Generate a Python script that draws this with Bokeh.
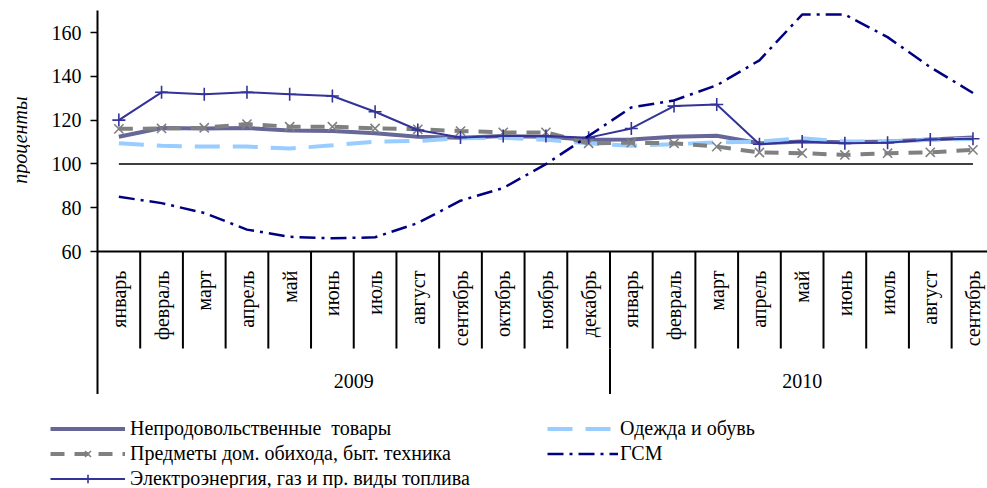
import math
from bokeh.plotting import figure
from bokeh.layouts import column, row
from bokeh.models import (Range1d, FixedTicker, Span, Legend, LegendItem,
                          ColumnDataSource)
from bokeh.core.properties import value
from bokeh.embed import file_html
from bokeh.resources import INLINE

# ---------------- data ----------------
YEARS = ["2009", "2010"]
MONTHS_2009 = ["январь", "февраль", "март", "апрель", "май", "июнь", "июль",
               "август", "сентябрь", "октябрь", "ноябрь", "декабрь"]
MONTHS_2010 = ["январь", "февраль", "март", "апрель", "май", "июнь", "июль",
               "август", "сентябрь"]

NONFOOD = [112.4, 116.4, 116.2, 116.4, 115.3, 115.0, 114.0, 112.4, 112.0, 112.7, 112.4,
           111.0, 111.2, 112.4, 112.9, 109.4, 110.2, 109.9, 110.2, 111.2, 112.1]
CLOTHING = [109.4, 108.3, 107.9, 107.9, 107.0, 108.5, 110.2, 110.5, 111.7, 111.9, 111.0,
            109.4, 108.3, 109.0, 109.8, 110.2, 111.7, 110.2, 110.2, 111.0, 111.4]
HOUSEHOLD = [116.0, 116.2, 116.5, 118.2, 117.0, 117.0, 116.2, 115.8, 115.0, 114.4, 114.4,
             109.4, 109.7, 109.4, 107.9, 105.2, 104.9, 104.1, 104.9, 105.3, 106.4]
ENERGY = [120.0, 132.7, 131.8, 132.7, 131.8, 131.0, 123.8, 115.5, 112.1, 112.7, 112.7,
          112.0, 116.2, 126.4, 127.1, 109.0, 110.2, 109.4, 109.7, 111.2, 111.5]
FUEL = [85.0, 82.1, 77.6, 70.0, 66.7, 66.0, 66.5, 73.0, 83.2, 89.0, 99.9,
        112.8, 125.8, 129.0, 135.9, 147.3, 168.2, 168.2, 157.9, 144.2, 132.4]

SERIES_NAMES = ["Непродовольственные  товары", "Одежда и обувь",
                "Предметы дом. обихода, быт. техника", "ГСМ",
                "Электроэнергия, газ и пр. виды топлива"]
Y_TICKS = [60, 80, 100, 120, 140, 160]
BASE_LEVEL = 100
Y_LABEL = "проценты"

# ---------------- styles / layout ----------------
FONT = "Liberation Serif"
AXIS_FONT = "Times New Roman"
FS = "20px"
Y_TOP = 170.05
Y_BOTTOM = -5.29
X_START = -0.5
X_END = 20.34
DIV_BOTTOM = 15.7
MONTH_LABEL_Y = 51.3
YEAR_LABEL_Y = 1.1

STY = {
    "nonfood": dict(line_color="#666699", line_width=4),
    "clothing": dict(line_color="#99CCFF", line_width=4, line_dash="25 13"),
    "household": dict(line_color="#808080", line_width=4, line_dash="14 10"),
    "household_m": dict(marker="x", size=13, line_color="#808080", line_width=1.6),
    "energy": dict(line_color="#333399", line_width=2),
    "energy_m": dict(marker="cross", size=13, line_color="#333399", line_width=1.6),
    "fuel": dict(line_color="#000080", line_width=2.5, line_dash="16 6 3 6"),
}

months = MONTHS_2009 + MONTHS_2010
xs = list(range(len(months)))
groups = [MONTHS_2009, MONTHS_2010]

src = ColumnDataSource(dict(x=xs, nonfood=NONFOOD, clothing=CLOTHING,
                            household=HOUSEHOLD, energy=ENERGY, fuel=FUEL))

# ---------------- y-label strip ----------------
LBL_W = 30
H_MAIN = 394
lf = figure(width=LBL_W, height=H_MAIN, output_backend="svg", toolbar_location=None,
            x_range=Range1d(0, LBL_W), y_range=Range1d(0, H_MAIN),
            x_axis_location=None, y_axis_location=None, min_border=0)
lf.outline_line_color = None
lf.grid.visible = False
lf.text(x=[19], y=[H_MAIN - 133], text=[Y_LABEL], angle=math.pi / 2,
        text_align="center", text_baseline="middle", text_font=value(FONT),
        text_font_size=FS, text_font_style="italic", text_color="black")

# ---------------- main chart ----------------
p = figure(width=987 - LBL_W, height=H_MAIN, output_backend="svg", toolbar_location=None,
           x_range=Range1d(X_START, X_END), y_range=Range1d(Y_BOTTOM, Y_TOP),
           x_axis_location=None, min_border_left=97 - LBL_W, min_border_right=0,
           min_border_top=10, min_border_bottom=0)
p.outline_line_color = None
p.grid.visible = False

ya = p.yaxis[0]
ya.ticker = FixedTicker(ticks=Y_TICKS)
ya.axis_line_color = "black"
ya.axis_line_width = 2
ya.major_tick_line_color = "black"
ya.major_tick_line_width = 1.5
ya.major_tick_out = 7
ya.major_tick_in = 0
ya.minor_tick_line_color = None
ya.major_label_standoff = 9
ya.major_label_text_font = AXIS_FONT
ya.major_label_text_font_style = "normal"
ya.major_label_text_font_size = FS
ya.major_label_text_color = "black"

# category axis baseline
p.add_layout(Span(location=Y_TICKS[0], dimension="width", line_color="black", line_width=2))

# month dividers
div_x = [i - 0.5 for i in range(1, len(months))]
p.segment(x0=div_x, x1=div_x, y0=[Y_TICKS[0]] * len(div_x), y1=[DIV_BOTTOM] * len(div_x),
          line_color="black", line_width=2)
# year dividers and year label positions
year_div, year_x, start = [], [], 0
for g in groups:
    year_x.append(start + (len(g) - 1) / 2.0)
    start += len(g)
    if g is not groups[-1]:
        year_div.append(start - 0.5)
p.segment(x0=year_div, x1=year_div, y0=[DIV_BOTTOM] * len(year_div),
          y1=[Y_BOTTOM] * len(year_div), line_color="black", line_width=2)

p.text(x=xs, y=[MONTH_LABEL_Y] * len(xs), text=months, angle=math.pi / 2,
       text_align="right", text_baseline="middle", text_font=value(FONT),
       text_font_size=FS, text_color="black")
p.text(x=year_x, y=[YEAR_LABEL_Y] * len(year_x), text=YEARS, text_align="center",
       text_baseline="middle", text_font=value(FONT), text_font_size=FS,
       text_color="black")

# base 100 line
p.segment(x0=[xs[0]], x1=[xs[-1]], y0=[BASE_LEVEL], y1=[BASE_LEVEL],
          line_color="black", line_width=1.5)

# series
p.line("x", "nonfood", source=src, **STY["nonfood"])
p.line("x", "clothing", source=src, **STY["clothing"])
p.line("x", "household", source=src, **STY["household"])
p.scatter("x", "household", source=src, **STY["household_m"])
p.line("x", "energy", source=src, **STY["energy"])
p.scatter("x", "energy", source=src, **STY["energy_m"])
p.line("x", "fuel", source=src, **STY["fuel"])

# ---------------- legend strip ----------------
# the legend strip re-uses the series source; its ranges keep the lines out of view
H_LEG = 488 - H_MAIN
lg = figure(width=987, height=H_LEG, output_backend="svg", toolbar_location=None,
            x_range=Range1d(0, 1), y_range=Range1d(0, 1),
            x_axis_location=None, y_axis_location=None, min_border=0)
lg.outline_line_color = None
lg.grid.visible = False
d_nonfood = lg.line("x", "nonfood", source=src, **STY["nonfood"])
d_cloth = lg.line("x", "clothing", source=src, **STY["clothing"])
d_house = lg.line("x", "household", source=src, **STY["household"])
d_house_m = lg.scatter("x", "household", source=src, **STY["household_m"])
d_energy = lg.line("x", "energy", source=src, **STY["energy"])
d_energy_m = lg.scatter("x", "energy", source=src, **STY["energy_m"])
d_fuel = lg.line("x", "fuel", source=src, **STY["fuel"])


def mk_legend(items, loc, gw, standoff):
    return Legend(items=items, location=loc, orientation="vertical",
                  label_text_font=FONT, label_text_font_size=FS, label_text_color="black",
                  glyph_width=gw, glyph_height=21, label_height=21,
                  label_standoff=standoff, spacing=2, padding=0, margin=0,
                  border_line_color=None, background_fill_alpha=0)


leg1 = mk_legend([LegendItem(label=SERIES_NAMES[0], renderers=[d_nonfood]),
                  LegendItem(label=SERIES_NAMES[2], renderers=[d_house, d_house_m]),
                  LegendItem(label=SERIES_NAMES[4], renderers=[d_energy, d_energy_m])],
                 (50, -2), 75, 5)
leg2 = mk_legend([LegendItem(label=SERIES_NAMES[1], renderers=[d_cloth]),
                  LegendItem(label=SERIES_NAMES[3], renderers=[d_fuel])],
                 (547, 23), 71, 2)
lg.add_layout(leg1)
lg.add_layout(leg2)

layout = column(row(lf, p, spacing=0), lg, spacing=0)
open("out.html", "w").write(file_html(layout, INLINE))
